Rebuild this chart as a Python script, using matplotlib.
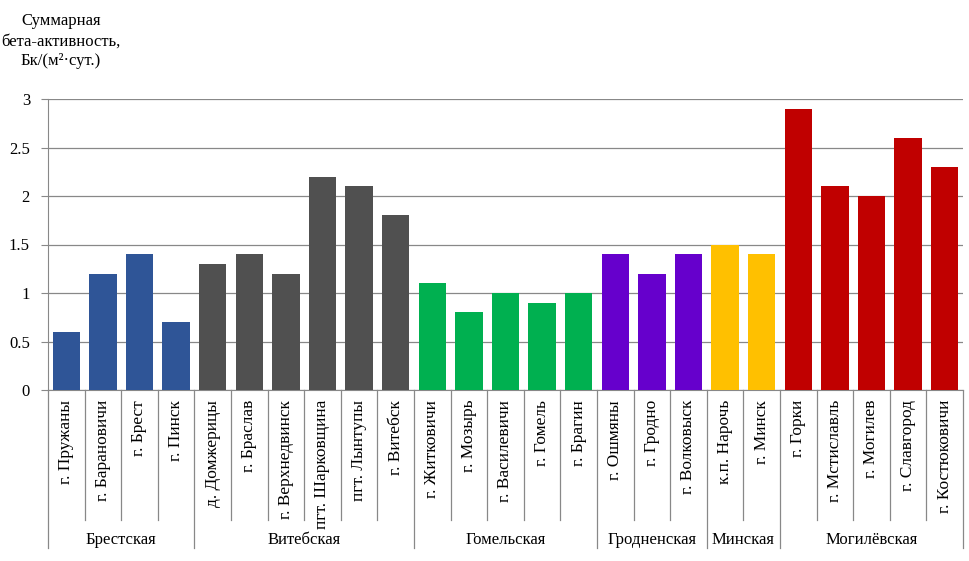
import matplotlib
matplotlib.use("Agg")
import matplotlib.pyplot as plt
from matplotlib.transforms import blended_transform_factory

plt.rcParams['font.family'] = ['Liberation Serif', 'DejaVu Serif']

regions = ["Брестская", "Витебская", "Гомельская", "Гродненская", "Минская", "Могилёвская"]
stations = [
    ["г. Пружаны", "г. Барановичи", "г. Брест", "г. Пинск"],
    ["д. Домжерицы", "г. Браслав", "г. Верхнедвинск", "пгт. Шарковщина", "пгт. Лынтупы", "г. Витебск"],
    ["г. Житковичи", "г. Мозырь", "г. Василевичи", "г. Гомель", "г. Брагин"],
    ["г. Ошмяны", "г. Гродно", "г. Волковыск"],
    ["к.п. Нарочь", "г. Минск"],
    ["г. Горки", "г. Мстиславль", "г. Могилев", "г. Славгород", "г. Костюковичи"],
]
values = [
    [0.6, 1.2, 1.4, 0.7],
    [1.3, 1.4, 1.2, 2.2, 2.1, 1.8],
    [1.1, 0.8, 1.0, 0.9, 1.0],
    [1.4, 1.2, 1.4],
    [1.5, 1.4],
    [2.9, 2.1, 2.0, 2.6, 2.3],
]
colors = ["#2F5597", "#505050", "#00B050", "#6600CC", "#FFC000", "#C00000"]
yticks = [0, 0.5, 1, 1.5, 2, 2.5, 3]
ytick_labels = ["0", "0.5", "1", "1.5", "2", "2.5", "3"]
ylabel = "Суммарная\nбета-активность,\nБк/(м²·сут.)"

W, H = 970, 561
fig = plt.figure(figsize=(W / 100, H / 100), dpi=100)
ax = fig.add_axes([48 / W, (H - 390) / H, 915 / W, 291 / H])

labels, vals, cols = [], [], []
for st, v, c in zip(stations, values, colors):
    labels += st
    vals += v
    cols += [c] * len(st)
n = len(labels)
x = list(range(n))
ax.bar(x, vals, width=0.75, color=cols, zorder=3)
ax.set_xlim(-0.5, n - 0.5)
ax.set_ylim(0, 3)
ax.set_yticks(yticks)
ax.set_yticklabels(ytick_labels, fontsize=12)
ax.tick_params(axis='y', length=5, color='#888888', pad=8)
ax.set_xticks([])
ax.grid(axis='y', color='#888888', linewidth=0.9, zorder=0)
for s in ['top', 'right']:
    ax.spines[s].set_visible(False)
ax.spines['left'].set_color('#888888')
ax.spines['bottom'].set_color('#888888')

trans = blended_transform_factory(ax.transData, fig.transFigure)
y0 = (H - 390) / H
y_cat = (H - 520) / H
y_grp = (H - 548) / H
bounds = [0]
for st in stations:
    bounds.append(bounds[-1] + len(st))
group_edges = set(b - 0.5 for b in bounds)
for i in range(n + 1):
    xe = i - 0.5
    ybot = y_grp if xe in group_edges else y_cat
    ax.plot([xe, xe], [y0, ybot], transform=trans, color='#888888', lw=0.9, clip_on=False)

for i, lab in enumerate(labels):
    ax.text(i, (H - 400) / H, lab, transform=trans, rotation=90, ha='center', va='top',
            fontsize=12.5)
for k, r in enumerate(regions):
    xc = (bounds[k] + bounds[k + 1] - 1) / 2
    ax.text(xc, (H - 540) / H, r, transform=trans, ha='center', va='center', fontsize=12)

fig.text(61 / W, 1 - 13 / H, ylabel, ha='center', va='top', fontsize=12, linespacing=1.35)

fig.savefig("out.png", dpi=100)
